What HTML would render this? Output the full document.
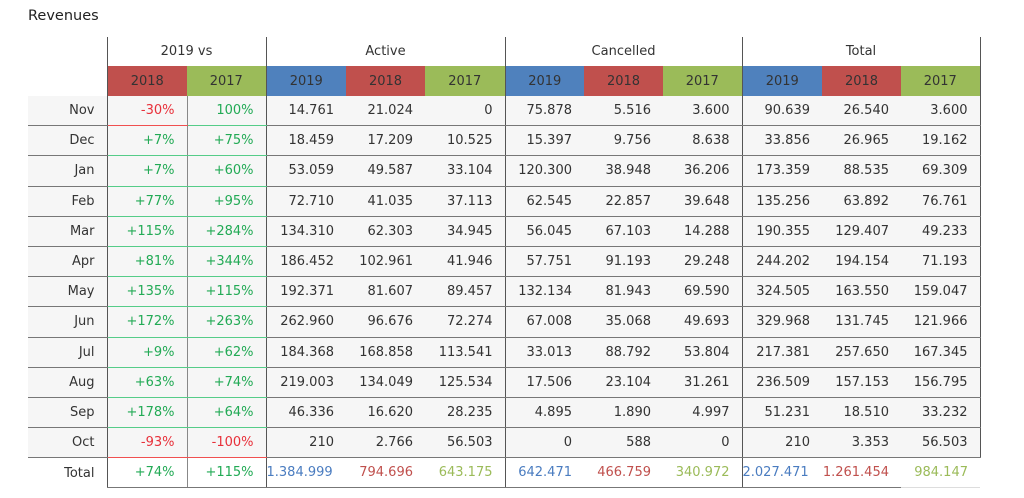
<!DOCTYPE html>
<html><head><meta charset="utf-8"><style>
body{margin:0;width:1024px;height:498px;background:#fff;font-family:"DejaVu Sans","Liberation Sans",sans-serif;color:#333;overflow:hidden;position:relative}
.t{position:absolute;left:28px;top:8px;font-size:14.5px;color:#222}
table{position:absolute;left:28px;top:37px;border-collapse:collapse;table-layout:fixed;font-size:13px}
td{height:29.2px;padding:0 12px 0 0;text-align:right;border-bottom:1px solid #777;background:#f6f6f6;white-space:nowrap}
tr.h1 td{height:29px;text-align:center;padding:0;background:#fff;border-bottom:none}
tr.h2 td{height:30px;text-align:center;padding:0;border-bottom:none;color:#333}
.b{background:#4f81bd!important}.r{background:#c0504d!important}.g{background:#9bbb59!important}
.vl{border-left:1.5px solid #555}.vr{border-right:1.5px solid #555}.vt{border-left:1px solid #888}
.n{color:#e8303a}.p{color:#22aa55}
.pn{border-bottom:1.5px solid #f05050}.pp{border-bottom:1.5px solid #55cc88}
tr.tot td{background:#fff}
.cb{color:#4a7cc0}.cr{color:#c0504d}.cg{color:#9bbb59}
</style></head><body>
<div class="t">Revenues</div>
<table>
<colgroup><col style="width:79px"><col style="width:80px"><col style="width:79px"><col style="width:80px"><col style="width:79px"><col style="width:80px"><col style="width:79px"><col style="width:79px"><col style="width:79px"><col style="width:80px"><col style="width:79px"><col style="width:79px"></colgroup>
<tr class="h1"><td></td><td colspan="2" class="vl">2019 vs</td><td colspan="3" class="vl">Active</td><td colspan="3" class="vl">Cancelled</td><td colspan="3" class="vl vr">Total</td></tr>
<tr class="h2"><td style="background:#fff"></td><td class="r vl">2018</td><td class="g">2017</td><td class="b vl">2019</td><td class="r">2018</td><td class="g">2017</td><td class="b vl">2019</td><td class="r">2018</td><td class="g">2017</td><td class="b vl">2019</td><td class="r">2018</td><td class="g vr">2017</td></tr>
<tr><td>Nov</td><td class="vl n pn">-30%</td><td class="vt p pp">100%</td><td class="vl">14.761</td><td>21.024</td><td>0</td><td class="vl">75.878</td><td>5.516</td><td>3.600</td><td class="vl">90.639</td><td>26.540</td><td class="vr">3.600</td></tr>
<tr><td>Dec</td><td class="vl p pp">+7%</td><td class="vt p pp">+75%</td><td class="vl">18.459</td><td>17.209</td><td>10.525</td><td class="vl">15.397</td><td>9.756</td><td>8.638</td><td class="vl">33.856</td><td>26.965</td><td class="vr">19.162</td></tr>
<tr><td>Jan</td><td class="vl p pp">+7%</td><td class="vt p pp">+60%</td><td class="vl">53.059</td><td>49.587</td><td>33.104</td><td class="vl">120.300</td><td>38.948</td><td>36.206</td><td class="vl">173.359</td><td>88.535</td><td class="vr">69.309</td></tr>
<tr><td>Feb</td><td class="vl p pp">+77%</td><td class="vt p pp">+95%</td><td class="vl">72.710</td><td>41.035</td><td>37.113</td><td class="vl">62.545</td><td>22.857</td><td>39.648</td><td class="vl">135.256</td><td>63.892</td><td class="vr">76.761</td></tr>
<tr><td>Mar</td><td class="vl p pp">+115%</td><td class="vt p pp">+284%</td><td class="vl">134.310</td><td>62.303</td><td>34.945</td><td class="vl">56.045</td><td>67.103</td><td>14.288</td><td class="vl">190.355</td><td>129.407</td><td class="vr">49.233</td></tr>
<tr><td>Apr</td><td class="vl p pp">+81%</td><td class="vt p pp">+344%</td><td class="vl">186.452</td><td>102.961</td><td>41.946</td><td class="vl">57.751</td><td>91.193</td><td>29.248</td><td class="vl">244.202</td><td>194.154</td><td class="vr">71.193</td></tr>
<tr><td>May</td><td class="vl p pp">+135%</td><td class="vt p pp">+115%</td><td class="vl">192.371</td><td>81.607</td><td>89.457</td><td class="vl">132.134</td><td>81.943</td><td>69.590</td><td class="vl">324.505</td><td>163.550</td><td class="vr">159.047</td></tr>
<tr><td>Jun</td><td class="vl p pp">+172%</td><td class="vt p pp">+263%</td><td class="vl">262.960</td><td>96.676</td><td>72.274</td><td class="vl">67.008</td><td>35.068</td><td>49.693</td><td class="vl">329.968</td><td>131.745</td><td class="vr">121.966</td></tr>
<tr><td>Jul</td><td class="vl p pp">+9%</td><td class="vt p pp">+62%</td><td class="vl">184.368</td><td>168.858</td><td>113.541</td><td class="vl">33.013</td><td>88.792</td><td>53.804</td><td class="vl">217.381</td><td>257.650</td><td class="vr">167.345</td></tr>
<tr><td>Aug</td><td class="vl p pp">+63%</td><td class="vt p pp">+74%</td><td class="vl">219.003</td><td>134.049</td><td>125.534</td><td class="vl">17.506</td><td>23.104</td><td>31.261</td><td class="vl">236.509</td><td>157.153</td><td class="vr">156.795</td></tr>
<tr><td>Sep</td><td class="vl p pp">+178%</td><td class="vt p pp">+64%</td><td class="vl">46.336</td><td>16.620</td><td>28.235</td><td class="vl">4.895</td><td>1.890</td><td>4.997</td><td class="vl">51.231</td><td>18.510</td><td class="vr">33.232</td></tr>
<tr><td>Oct</td><td class="vl n pn">-93%</td><td class="vt n pn">-100%</td><td class="vl">210</td><td>2.766</td><td>56.503</td><td class="vl">0</td><td>588</td><td>0</td><td class="vl">210</td><td>3.353</td><td class="vr">56.503</td></tr>
<tr class="tot"><td style="border-bottom:none">Total</td><td class="vl p">+74%</td><td class="vt p">+115%</td><td class="vl cb" style="padding:0;text-align:left">1.384.999</td><td class="cr">794.696</td><td class="cg">643.175</td><td class="vl cb">642.471</td><td class="cr">466.759</td><td class="cg">340.972</td><td class="vl cb" style="padding:0;text-align:left">2.027.471</td><td class="cr">1.261.454</td><td class="cg" style="border-bottom:1px solid #ddd">984.147</td></tr>
</table>
</body></html>
